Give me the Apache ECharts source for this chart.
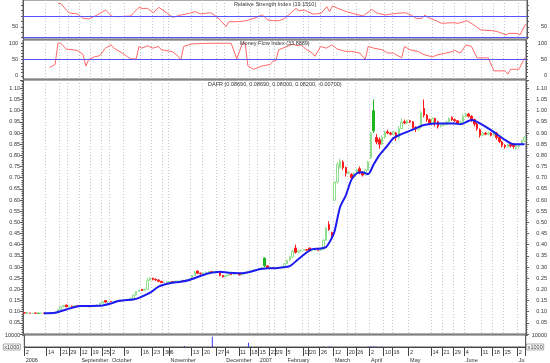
<!DOCTYPE html>
<html><head><meta charset="utf-8">
<script src="https://cdn.jsdelivr.net/npm/echarts@6/dist/echarts.min.js"></script>
<style>html,body{margin:0;padding:0;background:#fff}#c{width:550px;height:363px}</style>
</head><body><div id="c"></div>
<script>
// ---- DATA ----
// candles: [open, close, low, high], one per trading day
const candles = [
[0.095,0.094,0.093,0.095],[0.094,0.094,0.093,0.095],[0.094,0.093,0.092,0.094],[0.093,0.094,0.093,0.095],[0.094,0.093,0.092,0.094],
[0.093,0.093,0.092,0.094],[0.093,0.094,0.093,0.095],[0.094,0.093,0.092,0.094],[0.093,0.093,0.092,0.094],[0.093,0.094,0.093,0.095],
[0.094,0.093,0.092,0.094],[0.093,0.094,0.093,0.095],[0.095,0.110,0.095,0.112],[0.110,0.122,0.108,0.125],[0.122,0.128,0.120,0.130],
[0.130,0.122,0.120,0.131],[0.122,0.125,0.120,0.127],[0.125,0.124,0.122,0.127],[0.124,0.126,0.122,0.128],[0.126,0.124,0.122,0.127],
[0.124,0.125,0.123,0.127],[0.125,0.123,0.121,0.126],[0.123,0.124,0.122,0.126],[0.124,0.122,0.121,0.125],[0.122,0.124,0.121,0.126],
[0.124,0.126,0.123,0.128],[0.126,0.130,0.125,0.132],[0.130,0.138,0.129,0.140],[0.138,0.145,0.136,0.148],[0.150,0.143,0.141,0.152],
[0.143,0.146,0.142,0.148],[0.146,0.145,0.143,0.148],[0.145,0.147,0.144,0.149],[0.147,0.148,0.146,0.150],[0.148,0.147,0.145,0.150],
[0.147,0.149,0.146,0.151],[0.149,0.150,0.147,0.152],[0.150,0.152,0.149,0.154],[0.152,0.160,0.150,0.162],[0.160,0.175,0.158,0.178],
[0.175,0.190,0.172,0.192],[0.190,0.196,0.188,0.198],[0.200,0.195,0.193,0.202],[0.195,0.200,0.194,0.203],[0.200,0.240,0.198,0.250],
[0.240,0.250,0.238,0.255],[0.250,0.245,0.240,0.252],[0.245,0.242,0.238,0.248],[0.242,0.236,0.232,0.244],[0.236,0.230,0.228,0.238],
[0.230,0.232,0.228,0.234],[0.232,0.233,0.230,0.235],[0.233,0.235,0.231,0.237],[0.235,0.234,0.232,0.237],[0.234,0.237,0.233,0.239],
[0.237,0.238,0.235,0.240],[0.238,0.240,0.236,0.242],[0.240,0.238,0.236,0.242],[0.238,0.242,0.237,0.244],[0.242,0.246,0.240,0.248],
[0.246,0.262,0.245,0.265],[0.262,0.278,0.260,0.282],[0.282,0.272,0.268,0.284],[0.272,0.270,0.266,0.275],[0.270,0.274,0.268,0.277],
[0.274,0.277,0.272,0.280],[0.277,0.279,0.275,0.282],[0.279,0.276,0.274,0.281],[0.276,0.280,0.275,0.283],[0.280,0.278,0.276,0.282],
[0.275,0.262,0.258,0.276],[0.262,0.256,0.252,0.264],[0.256,0.262,0.254,0.265],[0.262,0.268,0.260,0.270],[0.268,0.266,0.264,0.270],
[0.266,0.270,0.264,0.272],[0.270,0.271,0.268,0.273],[0.272,0.265,0.263,0.273],[0.265,0.270,0.264,0.272],[0.270,0.276,0.268,0.278],
[0.276,0.280,0.274,0.282],[0.280,0.283,0.278,0.285],[0.283,0.286,0.281,0.288],[0.286,0.289,0.284,0.291],[0.289,0.293,0.287,0.295],
[0.293,0.296,0.291,0.300],[0.340,0.305,0.300,0.342],[0.305,0.296,0.293,0.308],[0.296,0.298,0.294,0.300],[0.298,0.296,0.294,0.300],
[0.296,0.298,0.295,0.300],[0.298,0.297,0.295,0.300],[0.297,0.300,0.296,0.302],[0.300,0.315,0.299,0.318],[0.315,0.330,0.313,0.333],
[0.330,0.345,0.328,0.348],[0.345,0.372,0.343,0.375],[0.385,0.366,0.360,0.400],[0.366,0.372,0.364,0.375],[0.372,0.375,0.370,0.378],
[0.375,0.378,0.373,0.380],[0.378,0.376,0.374,0.380],[0.385,0.372,0.370,0.387],[0.372,0.375,0.370,0.377],[0.375,0.376,0.373,0.378],
[0.376,0.375,0.373,0.378],[0.375,0.380,0.374,0.382],[0.380,0.420,0.378,0.425],[0.420,0.475,0.418,0.480],[0.490,0.468,0.462,0.505],
[0.455,0.440,0.420,0.458],[0.600,0.680,0.595,0.685],[0.680,0.760,0.675,0.770],[0.745,0.775,0.740,0.785],[0.770,0.745,0.735,0.778],
[0.745,0.720,0.705,0.750],[0.720,0.725,0.715,0.730],[0.715,0.700,0.690,0.720],[0.700,0.720,0.698,0.725],[0.720,0.735,0.718,0.740],
[0.740,0.722,0.715,0.750],[0.722,0.712,0.705,0.728],[0.712,0.735,0.710,0.740],[0.735,0.770,0.732,0.775],[0.790,0.900,0.785,0.905],
[1.000,0.910,0.900,1.050],[0.880,0.860,0.850,0.895],[0.870,0.850,0.830,0.880],[0.850,0.880,0.845,0.890],[0.880,0.905,0.875,0.910],
[0.905,0.900,0.895,0.915],[0.900,0.895,0.890,0.905],[0.895,0.905,0.890,0.910],[0.900,0.880,0.865,0.905],[0.880,0.920,0.870,0.930],
[0.920,0.950,0.915,0.965],[0.950,0.945,0.940,0.960],[0.945,0.955,0.940,0.960],[0.955,0.950,0.945,0.958],[0.950,0.925,0.918,0.952],
[0.925,0.918,0.905,0.930],[0.918,0.925,0.910,0.930],[0.925,0.990,0.920,1.000],[1.010,0.980,0.970,1.050],[0.980,0.960,0.950,0.985],
[0.960,0.945,0.935,0.965],[0.945,0.965,0.940,0.970],[0.965,0.950,0.930,0.968],[0.950,0.930,0.920,0.955],[0.930,0.935,0.925,0.940],
[0.935,0.938,0.930,0.942],[0.938,0.950,0.935,0.955],[0.950,0.965,0.945,0.970],[0.970,0.960,0.955,0.975],[0.960,0.955,0.950,0.965],
[0.955,0.945,0.940,0.958],[0.945,0.950,0.940,0.955],[0.950,0.975,0.948,0.985],[0.975,0.985,0.970,0.990],[0.985,0.975,0.970,0.990],
[0.975,0.960,0.950,0.980],[0.960,0.940,0.930,0.965],[0.940,0.920,0.910,0.945],[0.915,0.890,0.880,0.920],[0.890,0.900,0.885,0.905],
[0.900,0.895,0.890,0.905],[0.895,0.900,0.890,0.905],[0.900,0.890,0.885,0.903],[0.890,0.905,0.885,0.912],[0.900,0.880,0.870,0.905],
[0.880,0.862,0.855,0.885],[0.860,0.845,0.835,0.865],[0.845,0.838,0.830,0.850],[0.838,0.848,0.835,0.852],[0.848,0.842,0.835,0.852],
[0.850,0.840,0.830,0.855],[0.835,0.845,0.825,0.850],[0.840,0.848,0.830,0.852],[0.848,0.865,0.845,0.870],[0.865,0.880,0.860,0.885]
];
// moving average: [day index, value]
const maLine = [[7,0.093],[11,0.095],[15,0.11],[20,0.125],[27,0.126],[31,0.137],[34,0.149],[39,0.155],[41,0.162],[45,0.185],
[48,0.212],[52,0.227],[56,0.234],[59,0.242],[63,0.26],[66,0.272],[70,0.279],[73,0.274],[77,0.272],[81,0.279],[84,0.29],[87,0.294],
[90,0.295],[92,0.298],[95,0.304],[98,0.335],[101,0.365],[103,0.38],[106,0.383],[108,0.39],[110,0.43],[111,0.46],[113,0.57],[115,0.62],
[117,0.69],[119,0.72],[121,0.724],[123,0.716],[125,0.76],[127,0.80],[130,0.845],[132,0.877],[134,0.89],[140,0.921],[143,0.936],
[147,0.943],[154,0.943],[156,0.939],[160,0.958],[162,0.95],[167,0.913],[172,0.869],[175,0.85],[179,0.85]];
// RSI: [day index, value]
const rsi = [[12,93.4],[13,93],[15,81],[16,76],[17,75],[19,73.7],[21,65.7],[23,64.5],[26,71.9],[28,78],[29,81],[30,76],[31,70],
[32,68.8],[34,68.8],[38,70],[39,76],[41,86],[42,84],[44,84],[46,76],[47,81],[48,86],[51,75],[53,67.6],[56,71.9],[59,74.9],[61,78],
[63,73.7],[66,76],[67,75],[70,62.6],[72,50.3],[73,59.5],[76,59.5],[79,61],[82,65.7],[85,71.9],[87,62.6],[89,61.5],[91,61.4],[93,65.7],
[95,75],[97,84],[98,79.8],[100,81],[103,73.7],[104,73.7],[106,75],[108,87.2],[109,78],[110,88.4],[112,84],[115,78],[118,73.7],[121,70],
[123,78],[124,82.3],[126,75],[129,71.9],[131,73.7],[133,75],[136,76],[138,71.9],[140,65.7],[142,65.7],[143,71.9],[144,67.6],[147,61.4],
[149,56.5],[153,57.7],[155,56.5],[158,61.4],[160,55.3],[163,44.2],[167,43],[169,41.1],[172,35],[173,38],[176,38],[177,35],[179,55.3]];
// Money Flow Index: [day index, value]
const mfi = [[9,25],[11,35],[12,100],[13,100],[15,82],[19,78],[21,65],[22,30],[23,50],[25,58],[27,62],[29,85],[31,95],[32,85],[35,70],
[37,58],[38,52],[40,52],[41,90],[42,85],[44,92],[46,85],[48,90],[49,80],[53,74],[55,60],[56,48],[57,90],[60,98],[66,100],[74,100],
[76,52],[78,100],[79,100],[80,30],[82,20],[85,30],[88,35],[89,45],[90,47],[91,80],[94,90],[96,97],[98,92],[99,95],[101,80],[103,70],
[104,60],[106,90],[108,85],[110,95],[112,82],[115,75],[117,75],[120,70],[122,50],[123,90],[125,85],[128,80],[130,70],[132,70],[135,55],
[136,90],[138,80],[141,74],[143,65],[146,58],[148,65],[150,68],[153,74],[154,78],[156,70],[158,95],[160,90],[162,55],[164,55],[166,55],
[168,15],[172,15],[173,5],[174,20],[177,20],[179,55]];
// volume (x1000): [day index, value]
const volume = [[57,800],[67,8500],[80,3500],[81,500],[105,300],[107,400],[109,600],[110,300],[123,400],[124,900],[125,700],
[126,400],[128,200],[140,200],[150,200],[160,150]];
// date axis labels: [day index, text]
const weekLabels = [[0,'2'],[8,'14'],[13,'21'],[16,'29'],[20,'12'],[24,'19'],[28,'25'],[31,'2'],[36,'9'],[42,'16'],[46,'23'],[50,'30'],
[52,'6'],[60,'13'],[64,'20'],[69,'27'],[72,'4'],[77,'11'],[81,'18'],[84,'15'],[88,'22'],[90,'29'],[94,'5'],[100,'12'],[102,'20'],
[106,'26'],[111,'12'],[116,'20'],[119,'26'],[124,'2'],[129,'10'],[132,'16'],[138,'2'],[146,'14'],[150,'21'],[154,'29'],[158,'4'],
[164,'11'],[168,'18'],[172,'25'],[177,'2']];
const monthLabels = [[0,'2006'],[20,'September'],[31,'October'],[52,'November'],[72,'December'],[84,'2007'],[94,'February'],
[111,'March'],[124,'April'],[138,'May'],[158,'June'],[177,'Ju']];
const titles = ['Relative Strength Index (19.1510)','Money Flow Index (33.8889)','DAFR (0.08690, 0.08690, 0.08000, 0.08200, -0.00700)'];

// ---- CHART ----
const FONT = '"Liberation Sans", Arial, sans-serif';
const FS = 5.5;
const cats = candles.map((_, i) => String(i));
const weekMap = Object.fromEntries(weekLabels.map(d => [String(d[0]), d[1]]));
const monthMap = Object.fromEntries(monthLabels.map(d => [String(d[0]), d[1]]));
const isWeek = i => weekMap[String(i)] !== undefined;
const isMonth = i => monthMap[String(i)] !== undefined;
const AX = '#5a5a5a';
const lbl = {fontSize: FS, color: '#333', fontFamily: FONT};

const candleData = candles.map((d, i) => {
  const o = d[0], c = d[1];
  const prev = i > 0 ? candles[i - 1][1] : o;
  const up = c >= prev;
  const hollow = c > o;
  const stroke = up ? (hollow ? '#8ee08e' : '#1fb51f') : '#ff1a1a';
  const fill = hollow ? '#ffffff' : stroke;
  return {value: d, itemStyle: {color: fill, color0: fill, borderColor: stroke, borderColor0: stroke, borderWidth: 1}};
});

function catAxis(gridIndex, split) {
  return {type: 'category', gridIndex, data: cats, boundaryGap: true,
    axisLine: {show: false}, axisTick: {show: false}, axisLabel: {show: false},
    splitLine: {show: split, interval: (i) => isWeek(i), lineStyle: {color: '#c4c4c4', type: [1, 2], width: 1}}};
}
function yAx(gridIndex, pos, o) {
  return Object.assign({type: 'value', gridIndex, position: pos,
    axisLine: {show: true, lineStyle: {color: AX}}, splitLine: {show: false}}, o);
}
const grids = [
  {left: 23, right: 23, top: 0, height: 39},
  {left: 23, right: 23, top: 40, height: 39},
  {left: 23, right: 23, top: 80, height: 254},
  {left: 23, right: 23, top: 335, height: 12.5}
].map(g => Object.assign(g, {show: true, borderColor: AX, borderWidth: 1, backgroundColor: 'transparent'}));

const rsiTicks = {show: true, customValues: [30,40,50,60,70,80,90], length: 2, lineStyle: {color: AX}};
const mfiTicks = {show: true, customValues: [0,10,20,30,40,50,60,70,80,90,100], length: 2, lineStyle: {color: AX}};
const mainY = (pos) => yAx(2, pos, {min: 0, max: 1.1375, interval: 0.05,
  axisTick: {show: true, length: 3, lineStyle: {color: AX}},
  minorTick: {show: true, splitNumber: 5, length: 1.5, lineStyle: {color: AX}},
  axisLabel: Object.assign({showMinLabel: false, showMaxLabel: false, formatter: v => v.toFixed(2),
    margin: pos === 'left' ? 3 : 21, align: 'right'}, lbl)});

const option = {
  animation: false,
  backgroundColor: '#fff',
  title: [
    {text: titles[0], left: 234, top: 1},
    {text: titles[1], left: 240, top: 40},
    {text: titles[2], left: 208, top: 81}
  ].map(t => Object.assign(t, {padding: 0, textStyle: {fontSize: FS, fontWeight: 'normal', color: '#333', fontFamily: FONT}})),
  grid: grids,
  xAxis: [
    catAxis(0, true), catAxis(1, true), catAxis(2, true),
    {type: 'category', gridIndex: 3, data: cats, boundaryGap: true, position: 'bottom',
      axisLine: {show: true, lineStyle: {color: '#444'}},
      axisTick: {show: true, interval: (i) => isWeek(i), length: 9, lineStyle: {color: '#444', width: 1}},
      axisLabel: Object.assign({interval: (i) => isWeek(i), formatter: v => weekMap[v] || '', align: 'left', margin: 2}, lbl),
      splitLine: {show: false}},
    {type: 'category', gridIndex: 3, data: cats, boundaryGap: true, position: 'bottom', offset: 9,
      axisLine: {show: true, lineStyle: {color: '#444'}},
      axisTick: {show: true, interval: (i) => isMonth(i), length: 7, lineStyle: {color: '#444', width: 1}},
      axisLabel: Object.assign({interval: (i) => isMonth(i), formatter: v => monthMap[v] || '', align: 'left', margin: 1}, lbl),
      splitLine: {show: false}}
  ],
  yAxis: [
    yAx(0, 'left', {min: 27.6, max: 99.5, axisTick: rsiTicks, axisLabel: Object.assign({customValues: [50], margin: 5}, lbl)}),
    yAx(0, 'right', {min: 27.6, max: 99.5, axisTick: rsiTicks, axisLabel: Object.assign({customValues: [50], margin: 20, align: 'right'}, lbl)}),
    yAx(1, 'left', {min: -10, max: 110, axisTick: mfiTicks, axisLabel: Object.assign({customValues: [0, 50, 100], margin: 5}, lbl)}),
    yAx(1, 'right', {min: -10, max: 110, axisTick: mfiTicks, axisLabel: Object.assign({customValues: [0, 50, 100], margin: 21, align: 'right'}, lbl)}),
    mainY('left'), mainY('right'),
    yAx(3, 'left', {min: 0, max: 10000, axisTick: {show: true, customValues: [10000], length: 2, lineStyle: {color: AX}},
      axisLabel: Object.assign({customValues: [0, 10000], margin: 4,
        formatter: v => v === 0 ? '{b|x1000}' : '10000',
        rich: {b: {fontSize: FS, color: '#333', fontFamily: FONT, borderColor: '#777', borderWidth: 0.6, padding: [0, 1, 0, 1]}}}, lbl)}),
    yAx(3, 'right', {min: 0, max: 10000, axisTick: {show: true, customValues: [10000], length: 2, lineStyle: {color: AX}},
      axisLabel: Object.assign({customValues: [0, 10000], margin: 1, align: 'left',
        formatter: v => v === 0 ? '{b|x1000}' : '{a|10000}',
        rich: {a: {fontSize: FS, color: '#333', fontFamily: FONT, padding: [0, 0, 0, 5]},
               b: {fontSize: FS, color: '#333', fontFamily: FONT, borderColor: '#777', borderWidth: 0.6, padding: [0, 1, 0, 1]}}}, lbl)})
  ],
  series: [
    {type: 'line', name: 'RSI', xAxisIndex: 0, yAxisIndex: 0, data: rsi, showSymbol: false,
      lineStyle: {color: '#ff6a6a', width: 1}, z: 3,
      markLine: {silent: true, symbol: 'none', label: {show: false}, lineStyle: {color: '#5555ff', type: 'solid', width: 1},
        data: [{yAxis: 70}, {yAxis: 30}]}},
    {type: 'line', name: 'MFI', xAxisIndex: 1, yAxisIndex: 2, data: mfi, showSymbol: false,
      lineStyle: {color: '#ff6a6a', width: 1}, z: 3,
      markLine: {silent: true, symbol: 'none', label: {show: false}, lineStyle: {color: '#5555ff', type: 'solid', width: 1},
        data: [{yAxis: 50}]}},
    {type: 'candlestick', name: 'DAFR', xAxisIndex: 2, yAxisIndex: 4, data: candleData, barWidth: 2},
    {type: 'line', name: 'MA', xAxisIndex: 2, yAxisIndex: 4, data: maLine, showSymbol: false, smooth: 0.25,
      lineStyle: {color: '#1c1cf0', width: 2}, z: 4},
    {type: 'bar', name: 'Volume', xAxisIndex: 3, yAxisIndex: 6, data: volume, barWidth: 1,
      itemStyle: {color: '#3a3aff'}}
  ]
};
const chart = echarts.init(document.getElementById('c'), null, {renderer: 'canvas'});
chart.setOption(option);
</script>
</body></html>
